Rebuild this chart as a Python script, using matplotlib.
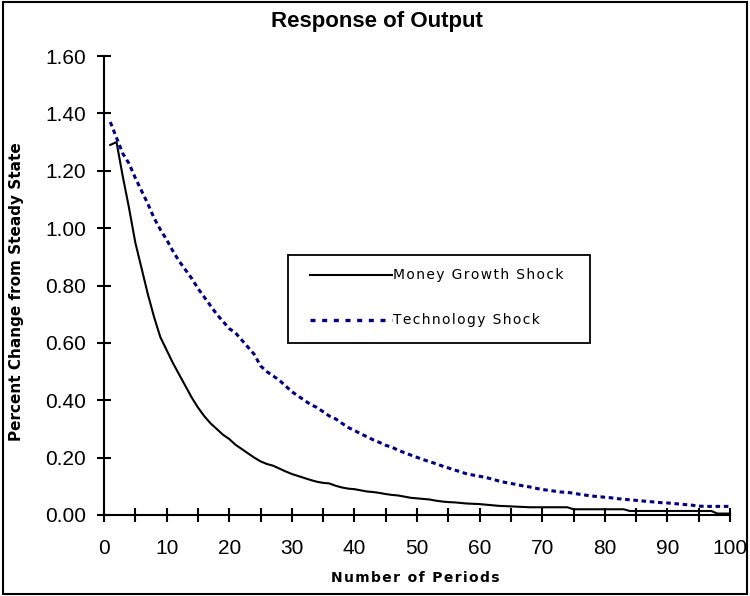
import matplotlib
matplotlib.use("Agg")
import matplotlib.pyplot as plt
from matplotlib.patches import Rectangle
from matplotlib.lines import Line2D
from matplotlib.ticker import MultipleLocator, FormatStrFormatter

periods = list(range(1, 101))
money_growth = [
    1.29, 1.30, 1.18, 1.07, 0.95, 0.86, 0.77, 0.69, 0.62, 0.575,
    0.53, 0.49, 0.45, 0.41, 0.375, 0.345, 0.32, 0.30, 0.28, 0.265,
    0.245, 0.23, 0.215, 0.20, 0.187, 0.178, 0.172, 0.162, 0.152, 0.143,
    0.136, 0.129, 0.122, 0.116, 0.112, 0.110, 0.102, 0.096, 0.092, 0.090,
    0.086, 0.082, 0.080, 0.077, 0.073, 0.070, 0.068, 0.064, 0.060, 0.058,
    0.056, 0.054, 0.050, 0.047, 0.045, 0.044, 0.042, 0.040, 0.039, 0.038,
    0.036, 0.034, 0.032, 0.031, 0.030, 0.029, 0.028, 0.027, 0.027, 0.027,
    0.027, 0.027, 0.027, 0.027, 0.020, 0.020, 0.020, 0.020, 0.020, 0.020,
    0.020, 0.020, 0.020, 0.014, 0.014, 0.014, 0.014, 0.014, 0.014, 0.014,
    0.014, 0.014, 0.014, 0.014, 0.014, 0.014, 0.014, 0.005, 0.005, 0.005,
]
technology = [
    1.37, 1.315, 1.26, 1.225, 1.175, 1.13, 1.085, 1.035, 0.995, 0.96,
    0.92, 0.885, 0.855, 0.825, 0.79, 0.76, 0.73, 0.70, 0.675, 0.65,
    0.635, 0.61, 0.585, 0.56, 0.52, 0.50, 0.485, 0.47, 0.45, 0.43,
    0.415, 0.40, 0.385, 0.375, 0.36, 0.345, 0.335, 0.32, 0.305, 0.295,
    0.283, 0.273, 0.262, 0.253, 0.243, 0.236, 0.226, 0.217, 0.209, 0.201,
    0.193, 0.186, 0.179, 0.171, 0.164, 0.157, 0.150, 0.143, 0.139, 0.135,
    0.131, 0.125, 0.119, 0.114, 0.110, 0.106, 0.101, 0.098, 0.093, 0.089,
    0.086, 0.083, 0.080, 0.079, 0.076, 0.072, 0.069, 0.066, 0.064, 0.062,
    0.060, 0.057, 0.055, 0.053, 0.051, 0.049, 0.047, 0.045, 0.043, 0.042,
    0.040, 0.038, 0.036, 0.034, 0.031, 0.030, 0.030, 0.030, 0.030, 0.030,
]
series_labels = ["Money Growth Shock", "Technology Shock"]
title = "Response of Output"
xlabel = "Number of Periods"
ylabel = "Percent Change from Steady State"

HS = "\u200a"
def spaced(s):
    return HS.join(list(s))

W, H = 750, 596
fig = plt.figure(figsize=(W / 100, H / 100), dpi=100)
fig.patch.set_facecolor("white")

ax = fig.add_axes([104 / W, 81 / H, 626 / W, 459 / H])
ax.plot(periods, money_growth, color="black", lw=1.5, clip_on=False, zorder=3)
ax.plot(periods, technology, color="#000080", lw=2.2, dashes=(1.5, 1.2),
        clip_on=False, zorder=3)

ax.set_xlim(0, 100)
ax.set_ylim(0, 1.6)
ax.xaxis.set_major_locator(MultipleLocator(10))
ax.xaxis.set_minor_locator(MultipleLocator(5))
ax.yaxis.set_major_locator(MultipleLocator(0.2))
ax.yaxis.set_major_formatter(FormatStrFormatter("%.2f"))
for s in ["top", "right"]:
    ax.spines[s].set_visible(False)
for s in ["left", "bottom"]:
    ax.spines[s].set_linewidth(1.5)
    ax.spines[s].set_color("black")
ax.tick_params(axis="x", which="both", direction="inout", length=10, width=1.5,
               pad=12, labelsize=15)
ax.tick_params(axis="y", which="both", direction="inout", length=10, width=1.5,
               pad=8, labelsize=15)
for lab in ax.get_xticklabels() + ax.get_yticklabels():
    lab.set_fontfamily("Liberation Sans")

fig.text(377 / W, 1 - 22 / H, title, ha="center", va="center",
         fontsize=16, fontweight="bold", family="Liberation Sans")
fig.text(415 / W, 1 - 578 / H, spaced(xlabel), ha="center", va="center",
         fontsize=10, fontweight="bold", family="DejaVu Sans")
fig.text(17 / W, 1 - 292 / H, ylabel, ha="center", va="center", rotation=90,
         fontsize=11, fontweight="bold", family="DejaVu Sans")

# legend
fig.add_artist(Rectangle((288 / W, 1 - 343 / H), (590 - 288) / W, (343 - 255) / H,
                         transform=fig.transFigure, fill=True, fc="white",
                         ec="black", lw=1.3, zorder=5))
fig.add_artist(Line2D([310 / W, 392 / W], [1 - 275 / H] * 2, color="black", lw=1.5,
                      transform=fig.transFigure, zorder=6))
fig.add_artist(Line2D([310 / W, 392 / W], [1 - 320 / H] * 2, color="#000080", lw=2.4,
                      dashes=(1.5, 2.0), transform=fig.transFigure, zorder=6))
fig.text(393 / W, 1 - 275 / H, spaced(series_labels[0]), ha="left", va="center",
         fontsize=10, family="DejaVu Sans", zorder=7)
fig.text(393 / W, 1 - 320 / H, spaced(series_labels[1]), ha="left", va="center",
         fontsize=10, family="DejaVu Sans", zorder=7)

# outer border
fig.add_artist(Rectangle((3 / W, 2 / H), 744 / W, 592 / H, transform=fig.transFigure,
                         fill=False, ec="black", lw=1.5, zorder=10))

fig.savefig("out.png", dpi=100)
